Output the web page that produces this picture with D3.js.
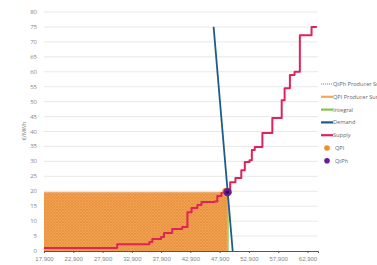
<!DOCTYPE html>
<html lang="en">
<head>
<meta charset="UTF-8">
<title>Supply and demand</title>
<script src="https://d3js.org/d3.v7.min.js"></script>
<style>
  body { margin: 0; background: #fff; }
  svg { display: block; font-family: "Open Sans", sans-serif; }
</style>
</head>
<body>
<div id="chart"></div>
<script>
// values
const xTicks = [17900, 22900, 27900, 32900, 37900, 42900, 47900, 52900, 57900, 62900];
const yTicks = [0, 5, 10, 15, 20, 25, 30, 35, 40, 45, 50, 55, 60, 65, 70, 75, 80];

const supplyQ = [17900, 30400, 35900, 36400, 37900, 38400, 39800, 41500, 42400, 43100, 44100, 44800, 47000, 47500, 48200, 48900,
                 49700, 50600, 51600, 52200, 53000, 53400, 53900, 55200, 56900, 58500, 59000, 59900, 60700, 61600, 63600, 64500];
const supplyP = [1, 2.3, 3, 4, 4.7, 6, 7.4, 8, 13, 14.4, 15.4, 16.4, 16.6, 18.4, 19.4, 20,
                 23, 24.4, 27, 29.8, 30.4, 33.8, 34.8, 39.5, 44.5, 50.5, 54.5, 58.9, 60, 72.2, 75, 75];

const demandQ = [46870, 50130];
const demandP = [75, 0];

const qpi = { q: 48950, p: 20 };
const qtph = { q: 49250, p: 19.7 };

const legendItems = [
  { label: "QtPh Producer Surplus", type: "hatch" },
  { label: "QPI Producer Surplus", type: "line", color: "#f4a95a" },
  { label: "Integral", type: "line", color: "#8cc152" },
  { label: "Demand", type: "line", color: "#1d5c8a" },
  { label: "Supply", type: "line", color: "#e0235a" },
  { label: "QPI", type: "dot", color: "#f28c28" },
  { label: "QtPh", type: "dot", color: "#6a1b9a" }
];

const W = 377, H = 265;
const svg = d3.select("#chart").append("svg").attr("width", W).attr("height", H);

const x = d3.scaleLinear().domain([17900, 64700]).range([44, 318]);
const y = d3.scaleLinear().domain([0, 80]).range([251, 12]);

const defs = svg.append("defs");
const pat = defs.append("pattern").attr("id", "hatch")
  .attr("patternUnits", "userSpaceOnUse").attr("width", 3).attr("height", 3);
pat.append("path").attr("d", "M0,0 L3,3 M3,0 L0,3")
  .attr("stroke", "#d9873a").attr("stroke-width", 0.6).attr("opacity", 0.7);

// gridlines
svg.append("g").selectAll("line").data(yTicks.filter(d => d > 0)).join("line")
  .attr("x1", x.range()[0]).attr("x2", x.range()[1])
  .attr("y1", d => y(d)).attr("y2", d => y(d))
  .attr("stroke", "#e2e2e2").attr("stroke-width", 0.8);

// y tick labels
svg.append("g").selectAll("text").data(yTicks).join("text")
  .attr("x", 37).attr("y", d => y(d) + 2)
  .attr("text-anchor", "end").attr("fill", "#858585").style("font-size", "6px")
  .text(d => d);

// y title
svg.append("text").attr("transform", "translate(26,131) rotate(-90)")
  .attr("text-anchor", "middle").attr("fill", "#858585").style("font-size", "5.5px")
  .text("€/MWh");

// producer surplus area
const surplus = svg.append("g");
surplus.append("rect")
  .attr("x", x(17900)).attr("y", y(qtph.p))
  .attr("width", x(qtph.q) - x(17900)).attr("height", y(0) - y(qtph.p))
  .attr("fill", "#f3a14c");
surplus.append("rect")
  .attr("x", x(17900)).attr("y", y(qtph.p))
  .attr("width", x(qtph.q) - x(17900)).attr("height", y(0) - y(qtph.p))
  .attr("fill", "url(#hatch)");
surplus.append("line")
  .attr("x1", x(17900)).attr("x2", x(qtph.q))
  .attr("y1", y(qtph.p)).attr("y2", y(qtph.p))
  .attr("stroke", "#e8c9a8").attr("stroke-width", 0.8).attr("stroke-dasharray", "1.5,1");

// integral
svg.append("line")
  .attr("x1", x(qtph.q) + 0.5).attr("x2", x(qtph.q) + 0.5)
  .attr("y1", y(0)).attr("y2", y(qtph.p))
  .attr("stroke", "#8cc152").attr("stroke-width", 1.2);

// x axis
const xAxis = svg.append("g").attr("transform", `translate(0,${y(0)})`)
  .call(d3.axisBottom(x).tickValues(xTicks).tickSize(2).tickFormat(d3.format(",")));
xAxis.select(".domain").attr("stroke", "#555").attr("stroke-width", 1);
xAxis.selectAll(".tick line").attr("stroke", "#555");
xAxis.selectAll("text").attr("fill", "#858585").style("font-size", "6px").attr("dy", "0.85em");

// supply
const supplyData = supplyQ.map((q, i) => ({ q: q, p: supplyP[i] }));
svg.append("path").datum(supplyData)
  .attr("d", d3.line().x(d => x(d.q)).y(d => y(d.p)).curve(d3.curveStepAfter))
  .attr("fill", "none").attr("stroke", "#e0235a").attr("stroke-width", 2)
  .attr("stroke-linejoin", "round");

// demand
const demandData = demandQ.map((q, i) => ({ q: q, p: demandP[i] }));
svg.append("path").datum(demandData)
  .attr("d", d3.line().x(d => x(d.q)).y(d => y(d.p)))
  .attr("fill", "none").attr("stroke", "#1d5c8a").attr("stroke-width", 1.8);

// equilibrium points
svg.append("circle").attr("cx", x(qpi.q)).attr("cy", y(qpi.p)).attr("r", 3.5).attr("fill", "#f28c28");
svg.append("circle").attr("cx", x(qtph.q)).attr("cy", y(qtph.p)).attr("r", 4.2).attr("fill", "#6a1b9a");
svg.append("circle").attr("cx", x(qtph.q)).attr("cy", y(qtph.p)).attr("r", 1.6).attr("fill", "#2a0a3a");

// legend
const lg = svg.append("g").attr("transform", "translate(321,84)");
const rows = lg.selectAll("g").data(legendItems).join("g")
  .attr("transform", (d, i) => `translate(0,${i * 12.8})`);
rows.each(function(d) {
  const g = d3.select(this);
  if (d.type === "hatch") {
    g.append("line").attr("x1", 0).attr("x2", 12).attr("y1", 0).attr("y2", 0)
      .attr("stroke", "#c4c4d2").attr("stroke-width", 2.2).attr("stroke-dasharray", "1.2,0.8");
  } else if (d.type === "line") {
    g.append("line").attr("x1", 0).attr("x2", 12).attr("y1", 0).attr("y2", 0)
      .attr("stroke", d.color).attr("stroke-width", 2.2);
  } else {
    g.append("circle").attr("cx", 6).attr("cy", 0).attr("r", 2.8).attr("fill", d.color);
  }
  g.append("text").attr("x", d.type === "dot" ? 14 : 12).attr("y", 2)
    .attr("fill", "#666").style("font-size", "5.6px").text(d.label);
});
</script>
</body>
</html>
